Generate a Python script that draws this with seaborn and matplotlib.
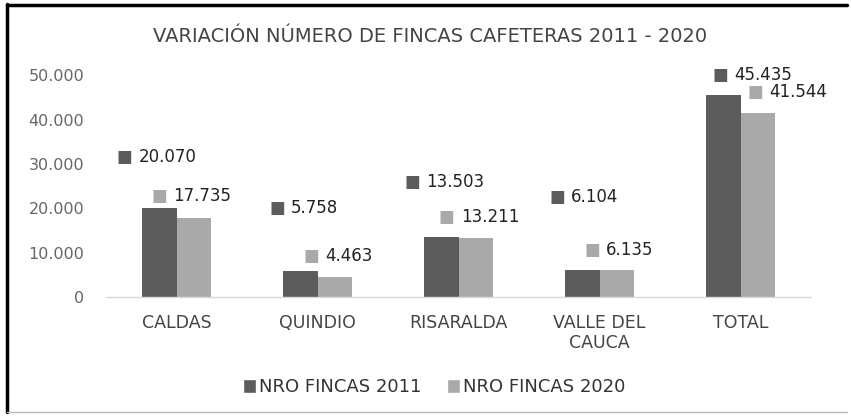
import pandas as pd
import matplotlib
matplotlib.use("Agg")
import matplotlib.pyplot as plt
from matplotlib.lines import Line2D
from matplotlib.patches import Patch
import seaborn as sns

# ------------------------------------------------------------------
# Data
# ------------------------------------------------------------------
departamentos = ["CALDAS", "QUINDIO", "RISARALDA", "VALLE DEL\nCAUCA", "TOTAL"]
fincas_2011 = [20070, 5758, 13503, 6104, 45435]
fincas_2020 = [17735, 4463, 13211, 6135, 41544]
series = ["NRO FINCAS 2011", "NRO FINCAS 2020"]
y_ticks = [0, 10000, 20000, 30000, 40000, 50000]

# layout of the callout labels (height in data units, shift in points)
label_y_2011 = [31500, 20000, 25900, 22500, 50000]
label_y_2020 = [22700, 9200, 18000, 10600, 46200]
label_dx = [-25, -17, -21, -18, -2]

COL_2011 = "#5c5c5c"
COL_2020 = "#a9a9a9"

df = pd.DataFrame({
    "dep": departamentos * 2,
    "serie": [series[0]] * 5 + [series[1]] * 5,
    "valor": fincas_2011 + fincas_2020,
})

sns.set_theme(style="white")
plt.rcParams["font.family"] = ["DejaVu Sans"]

fig = plt.figure(figsize=(8.51, 4.2), dpi=100)
ax = fig.add_axes([0.125, 0.293, 0.828, 0.528])

sns.barplot(data=df, x="dep", y="valor", hue="serie", order=departamentos,
            hue_order=series, palette=[COL_2011, COL_2020], width=0.49,
            saturation=1, legend=False, linewidth=0, ax=ax)

ax.set_ylim(0, 50000)
ax.set_xlim(-0.5, len(departamentos) - 0.5)
ax.set_yticks(y_ticks)
ax.set_yticklabels([f"{t:,}".replace(",", ".") for t in y_ticks],
                   fontsize=11.5, color="#666666")
ax.tick_params(axis="y", length=0, pad=16)
ax.tick_params(axis="x", length=0, pad=12, labelsize=12.5, labelcolor="#444444")
ax.set_xlabel("")
ax.set_ylabel("")
for side in ["top", "right", "left"]:
    ax.spines[side].set_visible(False)
ax.spines["bottom"].set_color("#d9d9d9")
ax.spines["bottom"].set_linewidth(1.0)

# callout labels with coloured square
bw = 0.49 / 2
for i in range(len(departamentos)):
    for vals, ys, col, off in [(fincas_2011, label_y_2011, COL_2011, -bw / 2),
                               (fincas_2020, label_y_2020, COL_2020, bw / 2)]:
        xc = i + off
        ax.annotate("■", (xc, ys[i]), xytext=(label_dx[i], 0),
                    textcoords="offset points", ha="center", va="center",
                    fontsize=12, color=col, annotation_clip=False)
        ax.annotate(f"{vals[i]:,}".replace(",", "."), (xc, ys[i]),
                    xytext=(label_dx[i] + 10, 0), textcoords="offset points",
                    ha="left", va="center", fontsize=12, color="#222222",
                    annotation_clip=False)

fig.text(0.505, 0.912, "VARIACIÓN NÚMERO DE FINCAS CAFETERAS 2011 - 2020",
         ha="center", va="center", fontsize=14, color="#444444")

handles = [Patch(facecolor=COL_2011), Patch(facecolor=COL_2020)]
fig.legend(handles, series, loc="center", bbox_to_anchor=(0.51, 0.078),
           ncol=2, frameon=False, fontsize=13, handlelength=0.75,
           handleheight=0.75, handletextpad=0.15, columnspacing=1.4,
           labelcolor="#333333")

# scanned frame around the chart
fig.add_artist(Line2D([0.008, 0.008], [0.02, 0.99], color="black", lw=2.5,
                      transform=fig.transFigure))
fig.add_artist(Line2D([0.008, 0.995], [0.988, 0.988], color="black", lw=2.5,
                      transform=fig.transFigure))
fig.add_artist(Line2D([0.008, 0.995], [0.02, 0.02], color="#bbbbbb", lw=1,
                      transform=fig.transFigure))

plt.savefig("out.png", dpi=100)
plt.close(fig)
